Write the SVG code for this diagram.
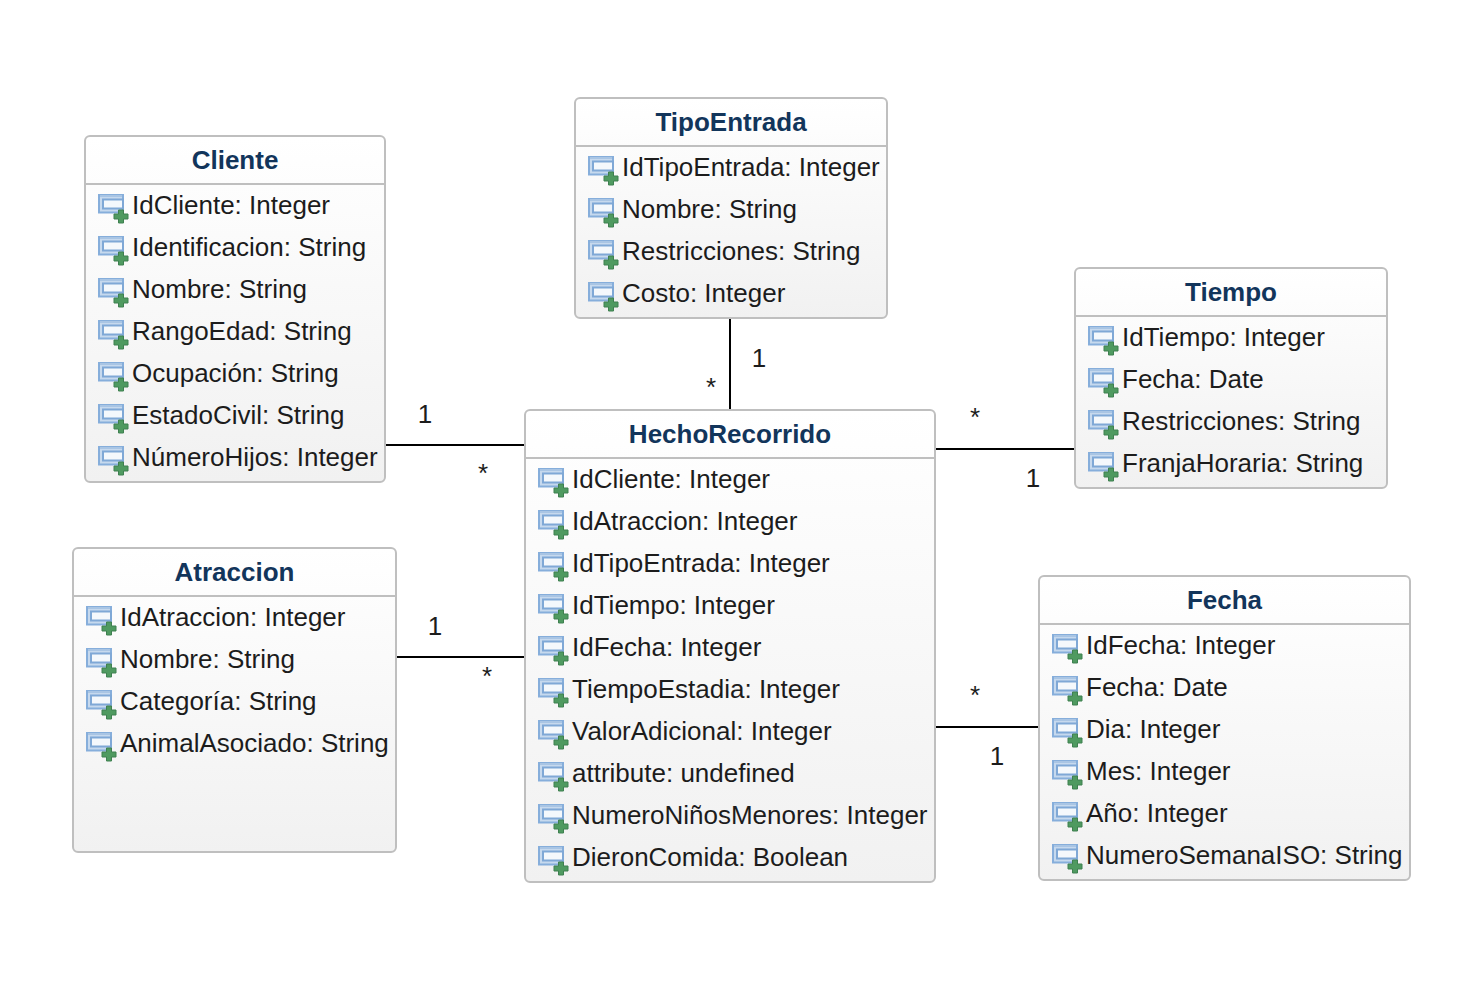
<svg xmlns="http://www.w3.org/2000/svg" width="1472" height="990" viewBox="0 0 1472 990">
<style>
text{font-family:"Liberation Sans",Arial,sans-serif;font-size:26px;fill:#1c1c1c}
.t{font-weight:bold;fill:#12355b;text-anchor:middle}
.b{fill:url(#g);stroke:#bfbfbf;stroke-width:2}
.s{stroke:#bfbfbf;stroke-width:2;fill:none}
.c{stroke:#000;stroke-width:2;fill:none}
.m{text-anchor:middle}
</style>
<defs>
<linearGradient id="g" x1="0" y1="0" x2="0" y2="1"><stop offset="0" stop-color="#ffffff"/><stop offset="1" stop-color="#f1f1f1"/></linearGradient>
<symbol id="i" width="32" height="32" viewBox="0 0 32 32" overflow="visible">
<rect x="2" y="1" width="24" height="17.500" fill="#c6d9ee" stroke="#86aedb" stroke-width="2"/>
<path d="M3 2H25" stroke="#a9c5e4" stroke-width="2"/>
<rect x="6" y="5.500" width="20" height="9" fill="#f4f8fc" stroke="#7fa8d6" stroke-width="2"/>
<path d="M21.500 16H26.500V20H31V25H26.500V29H21.500V25H17V20H21.500Z" fill="#4f9a60" stroke="#3f8050" stroke-width="1"/>
</symbol>
</defs>
<rect width="1472" height="990" fill="#fff"/>
<g id="connectors">
<path class="c" d="M386 445H525"/>
<path class="c" d="M396 657H525"/>
<path class="c" d="M730 319V410"/>
<path class="c" d="M936 449H1075"/>
<path class="c" d="M936 727H1039"/>
</g>
<g id="labels">
<text class="m" x="425" y="423">1</text><text class="m" x="483" y="482">*</text>
<text class="m" x="435" y="635">1</text><text class="m" x="487" y="685">*</text>
<text class="m" x="759" y="367">1</text><text class="m" x="711" y="396">*</text>
<text class="m" x="975" y="426">*</text><text class="m" x="1033" y="487">1</text>
<text class="m" x="975" y="704">*</text><text class="m" x="997" y="765">1</text>
</g>
<g id="Cliente">
<rect class="b" x="85" y="136" width="300" height="346" rx="5"/><path class="s" d="M85 184H385"/>
<text class="t" x="235" y="169">Cliente</text>
<use href="#i" x="97" y="194"/><text x="132" y="214">IdCliente: Integer</text>
<use href="#i" x="97" y="236"/><text x="132" y="256">Identificacion: String</text>
<use href="#i" x="97" y="278"/><text x="132" y="298">Nombre: String</text>
<use href="#i" x="97" y="320"/><text x="132" y="340">RangoEdad: String</text>
<use href="#i" x="97" y="362"/><text x="132" y="382">Ocupación: String</text>
<use href="#i" x="97" y="404"/><text x="132" y="424">EstadoCivil: String</text>
<use href="#i" x="97" y="446"/><text x="132" y="466">NúmeroHijos: Integer</text>
</g>
<g id="TipoEntrada">
<rect class="b" x="575" y="98" width="312" height="220" rx="5"/><path class="s" d="M575 146H887"/>
<text class="t" x="731" y="131">TipoEntrada</text>
<use href="#i" x="587" y="156"/><text x="622" y="176">IdTipoEntrada: Integer</text>
<use href="#i" x="587" y="198"/><text x="622" y="218">Nombre: String</text>
<use href="#i" x="587" y="240"/><text x="622" y="260">Restricciones: String</text>
<use href="#i" x="587" y="282"/><text x="622" y="302">Costo: Integer</text>
</g>
<g id="Tiempo">
<rect class="b" x="1075" y="268" width="312" height="220" rx="5"/><path class="s" d="M1075 316H1387"/>
<text class="t" x="1231" y="301">Tiempo</text>
<use href="#i" x="1087" y="326"/><text x="1122" y="346">IdTiempo: Integer</text>
<use href="#i" x="1087" y="368"/><text x="1122" y="388">Fecha: Date</text>
<use href="#i" x="1087" y="410"/><text x="1122" y="430">Restricciones: String</text>
<use href="#i" x="1087" y="452"/><text x="1122" y="472">FranjaHoraria: String</text>
</g>
<g id="HechoRecorrido">
<rect class="b" x="525" y="410" width="410" height="472" rx="5"/><path class="s" d="M525 458H935"/>
<text class="t" x="730" y="443">HechoRecorrido</text>
<use href="#i" x="537" y="468"/><text x="572" y="488">IdCliente: Integer</text>
<use href="#i" x="537" y="510"/><text x="572" y="530">IdAtraccion: Integer</text>
<use href="#i" x="537" y="552"/><text x="572" y="572">IdTipoEntrada: Integer</text>
<use href="#i" x="537" y="594"/><text x="572" y="614">IdTiempo: Integer</text>
<use href="#i" x="537" y="636"/><text x="572" y="656">IdFecha: Integer</text>
<use href="#i" x="537" y="678"/><text x="572" y="698">TiempoEstadia: Integer</text>
<use href="#i" x="537" y="720"/><text x="572" y="740">ValorAdicional: Integer</text>
<use href="#i" x="537" y="762"/><text x="572" y="782">attribute: undefined</text>
<use href="#i" x="537" y="804"/><text x="572" y="824">NumeroNiñosMenores: Integer</text>
<use href="#i" x="537" y="846"/><text x="572" y="866">DieronComida: Boolean</text>
</g>
<g id="Atraccion">
<rect class="b" x="73" y="548" width="323" height="304" rx="5"/><path class="s" d="M73 596H396"/>
<text class="t" x="234.500" y="581">Atraccion</text>
<use href="#i" x="85" y="606"/><text x="120" y="626">IdAtraccion: Integer</text>
<use href="#i" x="85" y="648"/><text x="120" y="668">Nombre: String</text>
<use href="#i" x="85" y="690"/><text x="120" y="710">Categoría: String</text>
<use href="#i" x="85" y="732"/><text x="120" y="752">AnimalAsociado: String</text>
</g>
<g id="Fecha">
<rect class="b" x="1039" y="576" width="371" height="304" rx="5"/><path class="s" d="M1039 624H1410"/>
<text class="t" x="1224.500" y="609">Fecha</text>
<use href="#i" x="1051" y="634"/><text x="1086" y="654">IdFecha: Integer</text>
<use href="#i" x="1051" y="676"/><text x="1086" y="696">Fecha: Date</text>
<use href="#i" x="1051" y="718"/><text x="1086" y="738">Dia: Integer</text>
<use href="#i" x="1051" y="760"/><text x="1086" y="780">Mes: Integer</text>
<use href="#i" x="1051" y="802"/><text x="1086" y="822">Año: Integer</text>
<use href="#i" x="1051" y="844"/><text x="1086" y="864">NumeroSemanaISO: String</text>
</g>
</svg>
